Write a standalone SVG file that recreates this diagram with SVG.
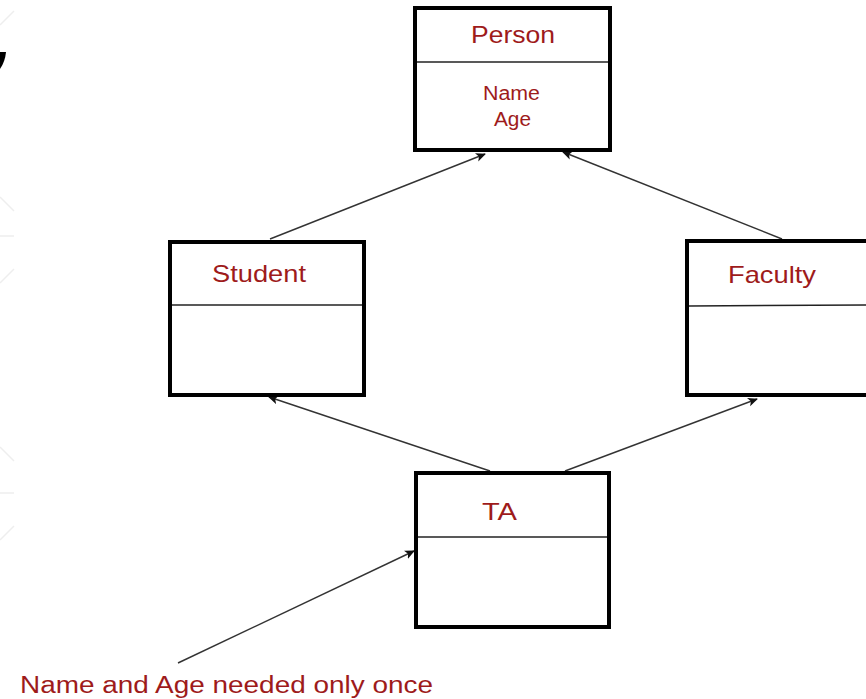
<svg xmlns="http://www.w3.org/2000/svg" width="866" height="699" viewBox="0 0 866 699">
  <defs>
    <style>
      .box { fill: #ffffff; stroke: #000000; stroke-width: 4; }
      .div { stroke: #222222; stroke-width: 1.5; }
      .lbl { font-family: "Liberation Sans", Arial, sans-serif; fill: #9e1b1b; text-anchor: start; }
      .conn { stroke: #333333; stroke-width: 1.4; fill: none; marker-end: url(#arrow); }
      .faint { stroke: #eeeeee; stroke-width: 1.5; fill: none; }
    </style>
    <marker id="arrow" viewBox="0 0 10 10" refX="9" refY="5" markerWidth="10" markerHeight="10" markerUnits="userSpaceOnUse" orient="auto">
      <path d="M0,0.5 L10,5 L0,9.5 L2.5,5 Z" fill="#111111"/>
    </marker>
  </defs>
  <rect width="866" height="699" fill="#ffffff"/>

  <g id="background-marks">
    <path class="faint" d="M0,25 L14,11"/>
    <path class="faint" d="M0,197 L14,211"/>
    <path class="faint" d="M0,236 L14,236"/>
    <path class="faint" d="M0,283 L14,269"/>
    <path class="faint" d="M0,447 L14,461"/>
    <path class="faint" d="M0,493 L14,493"/>
    <path class="faint" d="M0,540 L14,526"/>
    <path d="M0,52 L6,52 Q5,62 0,69 Z" fill="#000000"/>
  </g>

  <g id="connectors">
    <line class="conn" x1="270" y1="239" x2="485" y2="154"/>
    <line class="conn" x1="782" y1="239" x2="563" y2="152"/>
    <line class="conn" x1="490" y1="471" x2="269" y2="397"/>
    <line class="conn" x1="565" y1="471" x2="757" y2="399"/>
    <line class="conn" x1="178" y1="663" x2="414" y2="551"/>
  </g>

  <g id="person">
    <rect class="box" x="415" y="8" width="195" height="142"/>
    <line class="div" x1="417" y1="62" x2="608" y2="62"/>
    <text class="lbl" x="471" y="43" font-size="24" textLength="84" lengthAdjust="spacingAndGlyphs">Person</text>
    <text class="lbl" x="483" y="100" font-size="19.5" textLength="57" lengthAdjust="spacingAndGlyphs">Name</text>
    <text class="lbl" x="494" y="126" font-size="19.5" textLength="37" lengthAdjust="spacingAndGlyphs">Age</text>
  </g>

  <g id="student">
    <rect class="box" x="170" y="242" width="194" height="153"/>
    <line class="div" x1="172" y1="305" x2="362" y2="305"/>
    <text class="lbl" x="212" y="282" font-size="24" textLength="94" lengthAdjust="spacingAndGlyphs">Student</text>
  </g>

  <g id="faculty">
    <rect class="box" x="687" y="241" width="190" height="154"/>
    <line class="div" x1="689" y1="306" x2="866" y2="305"/>
    <text class="lbl" x="728" y="283" font-size="24" textLength="88" lengthAdjust="spacingAndGlyphs">Faculty</text>
  </g>

  <g id="ta">
    <rect class="box" x="416" y="473" width="193" height="154"/>
    <line class="div" x1="418" y1="537" x2="607" y2="537"/>
    <text class="lbl" x="482" y="520" font-size="24" textLength="35" lengthAdjust="spacingAndGlyphs">TA</text>
  </g>

  <g id="note">
    <text class="lbl" x="20" y="693" font-size="23" textLength="413" lengthAdjust="spacingAndGlyphs">Name and Age needed only once</text>
  </g>
</svg>
